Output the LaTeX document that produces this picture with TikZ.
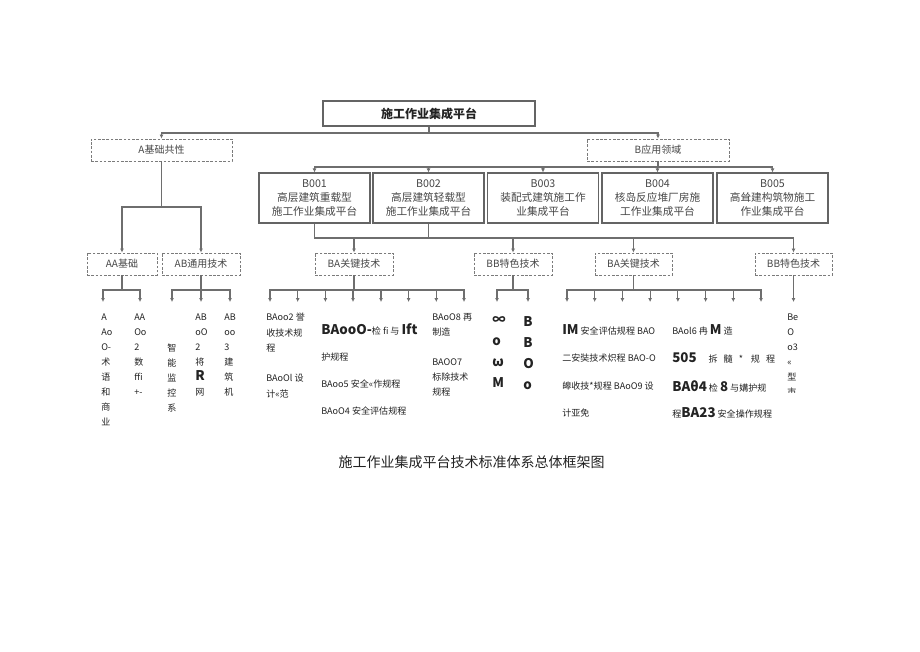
\documentclass[tikz,border=0pt]{standalone}
\usepackage{fontspec}
\setmainfont{Noto Sans CJK SC}
\usetikzlibrary{arrows.meta}
\definecolor{linec}{RGB}{110,110,110}
\definecolor{boxc}{RGB}{100,100,100}
\definecolor{txt}{RGB}{70,70,70}
\definecolor{leafc}{RGB}{35,35,35}
\newcommand\bigb[1]{{\fontsize{10}{12}\selectfont\bfseries #1}}
\begin{document}
\begin{tikzpicture}[x=0.75pt,y=-0.75pt,
  solidbox/.style={draw=boxc,line width=0.9pt,inner sep=0pt,align=center,text=txt},
  bbox/.style={solidbox,line width=0.8pt,minimum width=83.25pt,minimum height=37.5pt,font=\fontsize{8}{10.5}\selectfont},
  dashbox/.style={draw=boxc!85,dashed,dash pattern=on 2pt off 1.2pt,line width=0.7pt,inner sep=0pt,minimum height=16.5pt,text=txt,font=\fontsize{7.5}{9}\selectfont},
  conn/.style={draw=linec,line width=0.8pt},
  arr/.style={conn,-{Latex[length=3pt,width=3pt]}},
  leafcol/.style={inner sep=0pt,anchor=north west,align=left,text=leafc,font=\fontsize{6.8}{11.25}\selectfont},
  leafrow/.style={inner sep=0pt,anchor=west,text=leafc,font=\fontsize{6.8}{11.25}\selectfont},
]
\useasboundingbox[fill=white] (0,0) rectangle (920,651);

% top level
\node[solidbox,minimum width=159pt,minimum height=18.75pt,font=\fontsize{9}{10}\selectfont\bfseries,text=leafc] (top) at (429,113.5) {施工作业集成平台};
\node[dashbox,minimum width=105.75pt] (A) at (161.5,150) {A基础共性};
\node[dashbox,minimum width=106.5pt] (B) at (658,150) {B应用领域};

% B boxes
\node[bbox] (b1) at (314.5,198) {B001\\高层建筑重载型\\施工作业集成平台};
\node[bbox] (b2) at (428.5,198) {B002\\高层建筑轻载型\\施工作业集成平台};
\node[bbox] (b3) at (543,198) {B003\\装配式建筑施工作\\业集成平台};
\node[bbox] (b4) at (657.5,198) {B004\\核岛反应堆厂房施\\工作业集成平台};
\node[bbox] (b5) at (772.5,198) {B005\\高耸建构筑物施工\\作业集成平台};

% level 3
\node[dashbox,minimum width=52.5pt] (AA) at (122,264) {AA基础};
\node[dashbox,minimum width=58.5pt] (AB) at (201,264) {AB通用技术};
\node[dashbox,minimum width=58.5pt] (BA1) at (354,264) {BA关键技术};
\node[dashbox,minimum width=58.5pt] (BB1) at (513,264) {BB特色技术};
\node[dashbox,minimum width=57.75pt] (BA2) at (633.5,264) {BA关键技术};
\node[dashbox,minimum width=57.75pt] (BB2) at (793.5,264) {BB特色技术};

% connectors
\coordinate (tb) at (429,133);
\draw[conn] (top.south) -- (tb);
\draw[arr] (tb) -| (A.north);
\draw[arr] (tb) -| (B.north);

\coordinate (bb) at (658,167);
\draw[conn] (B.south) -- (bb);
\foreach \n in {b1,b2,b3,b4,b5} \draw[arr] (bb) -| (\n.north);

\coordinate (ab) at (161.5,207);
\draw[conn] (A.south) -- (ab);
\draw[arr] (ab) -| (AA.north);
\draw[arr] (ab) -| (AB.north);

\coordinate (mb) at (428.5,238);
\draw[conn] (b1.south) |- (mb);
\draw[conn] (b2.south) -- (mb);
\foreach \n in {BA1,BB1,BA2,BB2} \draw[arr] (mb) -| (\n.north);

% leaf branches
\coordinate (AAb) at (122,290);
\draw[conn] (AA.south) -- (AAb);
\foreach \x [count=\i] in {103,140} {\coordinate (aa\i) at (\x,302); \draw[arr] (AAb) -| (aa\i);}
\coordinate (ABb) at (201,290);
\draw[conn] (AB.south) -- (ABb);
\foreach \x [count=\i] in {172,201,230} {\coordinate (ab\i) at (\x,302); \draw[arr] (ABb) -| (ab\i);}
\coordinate (BA1b) at (354,290);
\draw[conn] (BA1.south) -- (BA1b);
\foreach \x [count=\i] in {270,297.7,325.4,353,381,408.6,436.3,464} {\coordinate (ba\i) at (\x,302); \draw[arr] (BA1b) -| (ba\i);}
\coordinate (BB1b) at (513,290);
\draw[conn] (BB1.south) -- (BB1b);
\foreach \x [count=\i] in {497,528} {\coordinate (bb\i) at (\x,302); \draw[arr] (BB1b) -| (bb\i);}
\coordinate (BA2b) at (633.5,290);
\draw[conn] (BA2.south) -- (BA2b);
\foreach \x [count=\i] in {567,594.7,622.4,650.1,677.9,705.6,733.3,761} {\coordinate (bc\i) at (\x,302); \draw[arr] (BA2b) -| (bc\i);}
\coordinate (bd1) at (793.5,302);
\draw[arr] (BB2.south) -- (bd1);

% leaf texts: A group
\node[leafcol] (l1) at (101,314) {A\\Ao\\O-\\术\\语\\和\\商\\业};
\node[leafcol] (l2) at (134,314) {AA\\Oo\\2\\数\\ffi\\+-};
\node[leafcol] (l3) at (167,344) {智\\能\\监\\控\\系};
\node[leafcol] (l4) at (195,314) {AB\\oO\\2\\将\\\bigb{R}\\网};
\node[leafcol] (l5) at (224,314) {AB\\oo\\3\\建\\筑\\机};

% BA1 group
\node[leafcol,font=\fontsize{6.8}{11.6}\selectfont] (t1) at (266,313) {BAoo2 誉\\收技术规\\程};
\node[leafcol,font=\fontsize{6.8}{11.6}\selectfont] (t2) at (266,374) {BAoOl 设\\计«范};
\node[leafrow] (t3) at (321,329) {\bigb{BAooO-}检 fi 与 \bigb{Ift}};
\node[leafrow] (t4) at (321,357) {护规程};
\node[leafrow] (t5) at (321,384) {BAoo5 安全«作规程};
\node[leafrow] (t6) at (321,411) {BAoO4 安全评估规程};
\node[leafcol,font=\fontsize{6.8}{11.6}\selectfont] (t7) at (432,313) {BAoO8 再\\制造};
\node[leafcol,font=\fontsize{6.8}{11.6}\selectfont] (t8) at (432,358) {BAOO7\\标除技术\\规程};

% BB1 group
\node[leafcol,font=\fontsize{10}{15.75}\selectfont\bfseries] (t9) at (492,316) {∞\\o\\ω\\M};
\node[leafcol,font=\fontsize{10}{15.75}\selectfont\bfseries] (t10) at (523,316) {B\\B\\O\\o};

% BA2 group
\node[leafrow] (u1) at (562,330) {\bigb{IM} 安全评估规程 BAO};
\node[leafrow] (u2) at (562,358) {二安奘技术炽程 BAO-O};
\node[leafrow] (u3) at (562,386) {皞收技*规程 BAoO9 设};
\node[leafrow] (u4) at (562,413) {计亚免};
\node[leafrow] (u5) at (672,330) {BAol6 冉 \bigb{M} 造};
\node[leafrow] (u6) at (672,358) {\bigb{505}\hspace{9pt}拆\hspace{4.5pt}髓\hspace{4.5pt}*\hspace{6pt}规\hspace{4.5pt}程};
\node[leafrow] (u7) at (672,386) {\bigb{BAθ4} 检 \bigb{8} 与媾护规};
\node[leafrow] (u8) at (672,413) {程\bigb{BA23} 安全操作规程};

% BB2 group (clipped)
\begin{scope}
\clip (780,308) rectangle (815,392);
\node[leafcol] (v1) at (787,314) {Be\\O\\o3\\«\\型\\市};
\end{scope}

% caption
\node[inner sep=0pt,text=leafc,font=\fontsize{10.5}{12}\selectfont] (cap) at (471.5,462) {施工作业集成平台技术标准体系总体框架图};
\end{tikzpicture}
\end{document}
